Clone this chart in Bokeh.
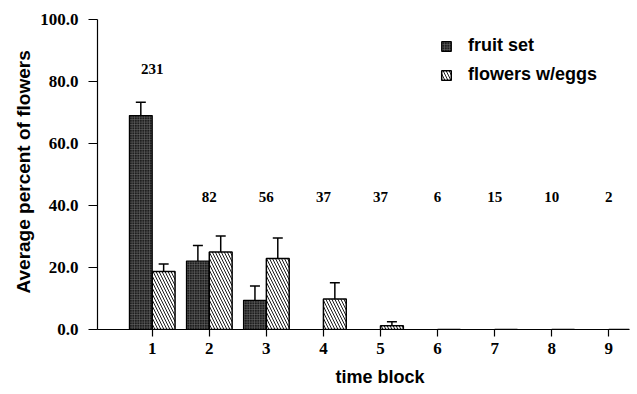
from bokeh.plotting import figure
from bokeh.models import ColumnDataSource, Whisker, TeeHead, Title, Legend, LegendItem, FixedTicker, CustomJSTickFormatter, LabelSet, Range1d
from bokeh.embed import file_html
from bokeh.resources import INLINE
from bokeh.core.properties import value

# ---- data ----
blocks = [1, 2, 3, 4, 5, 6, 7, 8, 9]
fruit_set = [69.0, 22.1, 9.4, 0.0, 0.0, 0.0, 0.0, 0.0, 0.0]
fruit_err = [4.3, 5.0, 4.6, 0.0, 0.0, 0.0, 0.0, 0.0, 0.0]
eggs = [18.7, 25.0, 22.9, 9.8, 1.2, 0.0, 0.0, 0.0, 0.0]
eggs_err = [2.4, 5.2, 6.6, 5.3, 1.3, 0.0, 0.0, 0.0, 0.0]
counts = ["231", "82", "56", "37", "37", "6", "15", "10", "2"]
y_ticks = [0, 20, 40, 60, 80, 100]

# ---- layout constants ----
BAR_W = 0.4
count_y = [82.3] + [41.0] * 8

x_fruit = [b - BAR_W / 2 for b in blocks]
x_eggs = [b + BAR_W / 2 for b in blocks]

fruit_src = ColumnDataSource(dict(x=x_fruit, top=fruit_set))
eggs_src = ColumnDataSource(dict(x=x_eggs, top=eggs))
fruit_err_src = ColumnDataSource(dict(
    x=[x for x, e in zip(x_fruit, fruit_err) if e > 0],
    lower=[t for t, e in zip(fruit_set, fruit_err) if e > 0],
    upper=[t + e for t, e in zip(fruit_set, fruit_err) if e > 0]))
eggs_err_src = ColumnDataSource(dict(
    x=[x for x, e in zip(x_eggs, eggs_err) if e > 0],
    lower=[t for t, e in zip(eggs, eggs_err) if e > 0],
    upper=[t + e for t, e in zip(eggs, eggs_err) if e > 0]))
count_src = ColumnDataSource(dict(x=blocks, y=count_y, text=counts))

p = figure(width=637, height=394, output_backend="svg", toolbar_location=None,
           x_range=Range1d(0.041, 9.363), y_range=Range1d(0, 100),
           min_border_left=97, min_border_right=8, min_border_top=19, min_border_bottom=64)
p.outline_line_color = None
p.grid.visible = False
p.background_fill_color = "white"

r_fruit = p.vbar(x="x", top="top", width=BAR_W, source=fruit_src,
                 fill_color="#1e1e1e", line_color="black", line_width=1.2,
                 hatch_pattern="+", hatch_color="#6e6e6e", hatch_scale=2.5, hatch_weight=0.6)
r_eggs = p.vbar(x="x", top="top", width=BAR_W, source=eggs_src,
                fill_color="white", line_color="black", line_width=1.5,
                hatch_pattern="\\", hatch_color="black", hatch_scale=6, hatch_weight=0.9)

for src in (fruit_err_src, eggs_err_src):
    w = Whisker(base="x", lower="lower", upper="upper", source=src, dimension="height",
                line_color="black", line_width=1.5,
                upper_head=TeeHead(size=10, line_color="black", line_width=1.5),
                lower_head=None)
    p.add_layout(w)

p.add_layout(LabelSet(x="x", y="y", text="text", source=count_src,
                      text_font=value("Liberation Serif"), text_font_style="bold",
                      text_font_size="15px", text_align="center", text_baseline="alphabetic",
                      text_color="black"))

# axes
p.yaxis.ticker = FixedTicker(ticks=y_ticks)
p.yaxis.formatter = CustomJSTickFormatter(code="return tick.toFixed(1);")
p.xaxis.ticker = FixedTicker(ticks=blocks)
for ax in (p.xaxis, p.yaxis):
    ax.axis_line_color = "black"
    ax.axis_line_width = 1.2
    ax.major_tick_line_color = "black"
    ax.major_tick_line_width = 1.2
    ax.major_tick_in = 0
    ax.minor_tick_line_color = None
    ax.major_label_text_font = "Liberation Serif"
    ax.major_label_text_font_style = "bold"
    ax.major_label_text_font_size = "17px"
    ax.major_label_text_color = "black"
p.yaxis.major_tick_out = 9
p.yaxis.major_label_standoff = 10
p.xaxis.major_tick_out = 7
p.xaxis.major_label_standoff = 6

# axis titles as side titles
p.add_layout(Title(text="time block", align="left", offset=238, standoff=16,
                   text_font="Liberation Sans", text_font_style="bold",
                   text_font_size="18px", text_color="black"), "below")
p.add_layout(Title(text="Average percent of flowers", align="left", offset=36, standoff=8,
                   text_font="Liberation Sans", text_font_style="bold",
                   text_font_size="19px", text_color="black"), "left")

legend = Legend(items=[LegendItem(label="fruit set", renderers=[r_fruit]),
                       LegendItem(label="flowers w/eggs", renderers=[r_eggs])],
                location=(343, 244), border_line_color=None, background_fill_alpha=0,
                padding=0, margin=0, spacing=8, glyph_width=12, glyph_height=12,
                label_height=12, label_standoff=16,
                label_text_font="Liberation Sans", label_text_font_style="bold",
                label_text_font_size="18px", label_text_color="black")
p.add_layout(legend)

open("out.html", "w").write(file_html(p, INLINE))
